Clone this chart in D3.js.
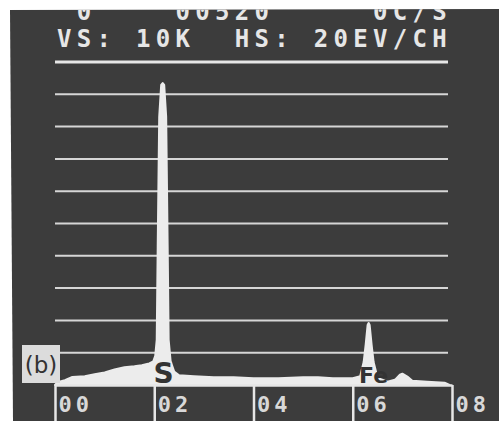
<!DOCTYPE html>
<html>
<head>
<meta charset="utf-8">
<script src="https://cdn.jsdelivr.net/npm/d3@7"></script>
<style>
  body { margin: 0; background: #fff; }
  svg { display: block; }
</style>
</head>
<body>
<svg id="chart" width="499" height="421"></svg>
<script>
// spectrum: energy (keV) and counts (K)
const energy = [0.00, 0.05, 0.20, 0.35, 0.60, 0.80, 1.00, 1.20, 1.40, 1.60, 1.75, 1.90, 1.98,
  2.02, 2.05, 2.07, 2.10, 2.14, 2.17, 2.20, 2.24, 2.27, 2.29, 2.33, 2.40, 2.50,
  2.80, 3.20, 3.60, 4.00, 4.50, 5.00, 5.30, 5.60, 6.00, 6.15, 6.22, 6.26, 6.30, 6.32,
  6.34, 6.38, 6.42, 6.50, 6.70, 6.85, 6.95, 7.00, 7.10, 7.20, 7.50, 7.85, 7.95];
const counts = [0.00, 0.09, 0.15, 0.25, 0.27, 0.33, 0.39, 0.48, 0.55, 0.58, 0.61, 0.67, 0.73,
  0.90, 1.40, 4.30, 8.30, 9.29, 9.35, 9.29, 8.30, 4.30, 1.40, 0.73, 0.42, 0.30,
  0.27, 0.24, 0.24, 0.21, 0.21, 0.24, 0.24, 0.21, 0.21, 0.27, 0.71, 1.24, 1.86, 1.92,
  1.86, 1.24, 0.71, 0.22, 0.10, 0.16, 0.32, 0.35, 0.26, 0.13, 0.10, 0.07, 0.00];

const gridLevels = [1, 2, 3, 4, 5, 6, 7, 8, 9];
const energyTicks = [0, 2, 4, 6, 8];
const headerTop = " 0    00520     0C/S";
const headerRow = "VS: 10K  HS: 20EV/CH";
const panelLabel = "(b)";
const peaks = [{ label: "S", e: 2.17 }, { label: "Fe", e: 6.32 }];

const svg = d3.select("#chart");
const screen = "#3c3c3c", phosphor = "#e6e6e6";

// crt screen
const screenPath = "M10,10 L499,9 L499,421 L13,421 Z";
svg.append("clipPath").attr("id", "screenClip")
  .append("path").attr("d", screenPath);
svg.append("path")
  .attr("d", screenPath)
  .attr("fill", screen);

const x = d3.scaleLinear().domain([0, 8]).range([55, 452]);
const y = d3.scaleLinear().domain([0, 10]).range([385, 62]);

// header lines (top one runs off the photo)
const mono = "'DejaVu Sans Mono', monospace";
svg.append("text")
  .attr("x", 57).attr("y", 20)
  .attr("clip-path", "url(#screenClip)")
  .style("white-space", "pre")
  .attr("font-family", mono).attr("font-size", 24).attr("font-weight", "bold")
  .attr("letter-spacing", 5.3)
  .attr("fill", phosphor)
  .text(headerTop);
svg.append("text")
  .attr("x", 57).attr("y", 47)
  .style("white-space", "pre")
  .attr("font-family", mono).attr("font-size", 24).attr("font-weight", "bold")
  .attr("letter-spacing", 5.3)
  .attr("fill", phosphor)
  .text(headerRow);

// underline below header = full scale
svg.append("line")
  .attr("x1", 55).attr("x2", 448)
  .attr("y1", y(10)).attr("y2", y(10))
  .attr("stroke", phosphor).attr("stroke-width", 3);

// horizontal grid
svg.append("g")
  .selectAll("line")
  .data(gridLevels)
  .join("line")
  .attr("x1", 55).attr("x2", 448)
  .attr("y1", d => y(d)).attr("y2", d => y(d))
  .attr("stroke", "#d6d6d6").attr("stroke-width", 2);

// spectrum
const spec = energy.map((e, i) => ({ e, c: counts[i] }));
const area = d3.area()
  .x(d => x(d.e))
  .y0(y(0))
  .y1(d => y(d.c));
svg.append("path")
  .datum(spec)
  .attr("fill", "#ececec")
  .attr("stroke", "#ececec")
  .attr("stroke-width", 2)
  .attr("stroke-linejoin", "round")
  .attr("d", area);

// energy axis
const axis = svg.append("g")
  .attr("transform", `translate(0,${y(0)})`)
  .call(d3.axisBottom(x).tickValues(energyTicks).tickSize(38).tickSizeOuter(0)
    .tickFormat(d3.format("02d")));
axis.select(".domain").attr("stroke", phosphor).attr("stroke-width", 2.5);
axis.selectAll(".tick line").attr("stroke", phosphor).attr("stroke-width", 2.5);
axis.selectAll(".tick text")
  .attr("y", 27).attr("dy", 0).attr("x", 3)
  .attr("text-anchor", "start")
  .attr("font-family", mono).attr("font-size", 22).attr("font-weight", "bold")
  .attr("letter-spacing", 4)
  .attr("fill", "#d8d8d8");

// peak labels
svg.append("g")
  .selectAll("text")
  .data(peaks)
  .join("text")
  .attr("x", d => x(d.e) + (d.label === "S" ? 1 : 5))
  .attr("y", 383)
  .attr("text-anchor", "middle")
  .attr("font-family", "'DejaVu Sans', sans-serif")
  .attr("font-weight", "bold")
  .attr("font-size", d => d.label === "S" ? 28 : 22)
  .attr("fill", "#333")
  .attr("stroke", d => d.label === "S" ? "#ececec" : "none")
  .attr("stroke-width", 3)
  .attr("paint-order", "stroke")
  .text(d => d.label);

// panel tag
svg.append("rect")
  .attr("x", 22).attr("y", 345).attr("width", 38).attr("height", 38)
  .attr("fill", "#dcdcdc");
svg.append("text")
  .attr("x", 41).attr("y", 373)
  .attr("text-anchor", "middle")
  .attr("font-family", "'DejaVu Sans', sans-serif")
  .attr("font-size", 23)
  .attr("fill", "#333")
  .text(panelLabel);
</script>
</body>
</html>
